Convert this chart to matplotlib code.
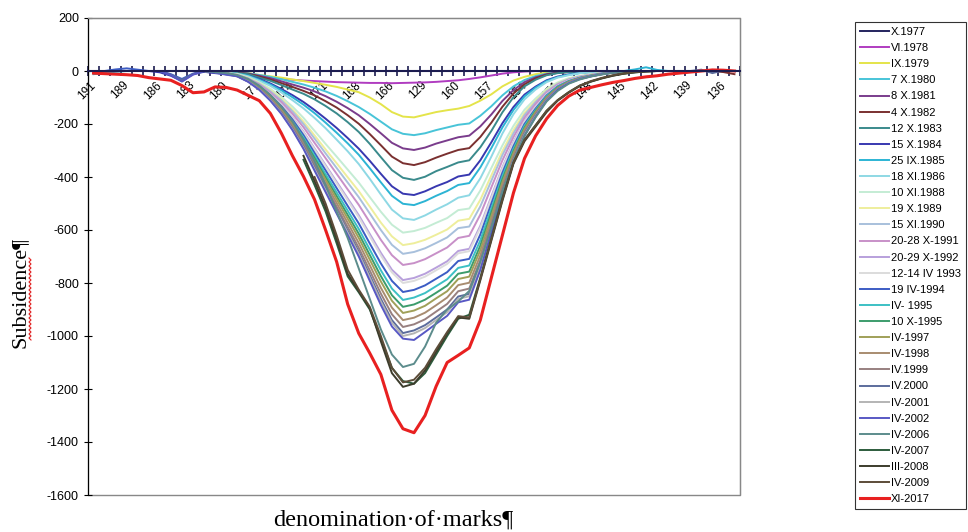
import numpy as np
import matplotlib
matplotlib.use("Agg")
import matplotlib.pyplot as plt
from matplotlib.patches import Rectangle
from matplotlib.lines import Line2D
from matplotlib.ticker import FuncFormatter

plt.rcParams['font.family'] = 'Liberation Sans'
plt.rcParams['axes.unicode_minus'] = False

nan = np.nan

# survey marks along the profile (every third one is labelled)
marks = ['191', '190', '189a', '189', '188', '187', '186', '185', '184', '183',
         '182', '181', '180', '179', '178', '177', '176', '175', '174', '173',
         '172', '171', '170', '169', '168', '167', '166a', '166', '165', '130',
         '129', '162', '161', '160', '159', '158', '157', '156', '155', '154',
         '153', '152', '151', '150', '149', '148', '147', '146', '145', '144',
         '143', '142', '141', '140', '139', '138', '137', '136', '135']

# subsidence, mm (index 0..12 | 13..43 | 44..58)
x1977 = [0, 0, 0, 0, 0, 0, 0, 0, 0, 0, 0, 0, 0,
         0, 0, 0, 0, 0, 0, 0, 0, 0, 0, 0, 0, 0, 0, 0, 0, 0, 0, 0, 0, 0, 0, 0, 0, 0, 0, 0, 0, 0, 0, 0,
         0, 0, 0, 0, 0, 0, 0, 0, 0, 0, 0, 0, 0, 0, 0]
vi1978 = [0, 0, 0, 0, 0, 0, 0, 0, 0, 0, -3, -6, -10,
          -14, -18, -22, -26, -30, -33, -36, -38, -40, -42, -43, -44, -45, -45, -46, -45, -44, -43, -41, -38, -35, -30, -24, -17, -10, -5, -2, 0, 0, 0, 0,
          0, 0, 0, 0, 0, 0, 0, 0, 0, 0, 0, 0, 0, 0, 0]
ix1979 = [0, 0, 0, 0, 0, 0, 0, 0, 0, 0, 0, 0, 0,
          -3, -8, -15, -20, -25, -32, -38, -45, -52, -60, -70, -80, -100, -125, -155, -172, -175, -165, -155, -148, -142, -132, -112, -88, -58, -36, -22, -12, -6, -2, 0,
          0, 0, 0, 0, 0, 0, 0, 0, 0, 0, 0, 0, 0, 0, 0]
x1980 = [0, 0, 0, 0, 0, 0, 0, 0, 0, 0, 0, -2, -4,
         -6, -9, -15, -22, -31, -41, -51, -63, -77, -94, -114, -136, -162, -191, -220, -237, -242, -235, -223, -213, -203, -198, -169, -133, -92, -58, -34, -19, -10, -5, -2,
         0, 0, 0, 0, 0, 0, 0, 0, 0, 0, 0, 0, 0, 0, 0]
x1981 = [0, 0, 0, 0, 0, 0, 0, 0, 0, 0, 0, -2, -4,
         -6, -10, -18, -27, -39, -51, -63, -77, -95, -116, -140, -167, -200, -235, -271, -292, -298, -289, -274, -262, -250, -244, -209, -164, -113, -72, -42, -24, -12, -6, -3,
         0, 0, 0, 0, 0, 0, 0, 0, 0, 0, 0, 0, 0, 0, 0]
x1982 = [0, 0, 0, 0, 0, 0, 0, 0, 0, 0, 0, -2, -5,
         -7, -11, -21, -32, -46, -60, -75, -92, -114, -138, -167, -199, -238, -280, -323, -348, -355, -344, -327, -312, -298, -291, -249, -195, -135, -85, -50, -28, -14, -7, -4,
         -2, 0, 0, 0, 0, 0, 0, 0, 0, 0, 0, 0, 0, -4, -12]
x1983 = [0, 0, 0, 0, 0, 0, 0, 0, 0, 0, 0, -3, -6,
         -8, -12, -25, -37, -53, -70, -86, -107, -132, -160, -193, -230, -275, -325, -374, -403, -411, -399, -378, -362, -345, -337, -288, -226, -156, -99, -58, -33, -16, -8, -4,
         -2, 0, 0, 0, 0, 0, 0, 0, 0, 0, 0, 0, 0, 0, 0]
x1984 = [0, 0, 0, 0, 0, 0, -5, -18, -38, -12, -3, -8, -12,
         -14, -18, -30, -47, -68, -91, -117, -147, -180, -215, -253, -293, -339, -388, -435, -463, -468, -454, -435, -419, -398, -391, -337, -269, -197, -136, -89, -59, -35, -21, -13,
         -7, -5, -2, 0, 0, 0, 0, 0, 0, 0, 0, 0, 0, 0, 0]
ix1985 = [-12, -8, -3, 0, 0, 0, 0, 0, 0, 0, 0, -4, -8,
          -10, -18, -33, -51, -73, -99, -127, -159, -195, -233, -273, -316, -367, -420, -471, -501, -506, -491, -471, -453, -430, -423, -364, -291, -213, -147, -96, -63, -38, -23, -14,
          -8, -5, -3, 0, 0, 6, 14, 4, 0, 0, 0, 0, 0, 0, 0]
xi1986 = [0, 0, 0, 0, 0, 0, 0, 0, 0, 0, 0, -4, -8,
          -10, -20, -37, -56, -81, -110, -141, -177, -216, -259, -303, -351, -407, -466, -523, -556, -562, -545, -523, -503, -478, -469, -405, -323, -236, -163, -107, -70, -42, -25, -16,
          -8, -6, -3, 0, 0, 0, 0, 0, 0, 0, 0, 0, 0, 0, 0]
xi1988 = [0, 0, 0, 0, 0, 0, 0, 0, 0, 0, 0, -4, -8,
          -12, -24, -43, -67, -98, -134, -177, -226, -275, -323, -372, -421, -476, -531, -580, -610, -604, -592, -573, -555, -525, -519, -451, -366, -281, -207, -146, -104, -67, -43, -27,
          -18, -12, -7, -4, -2, 0, 0, 0, 0, 0, 0, 0, 0, 0, 0]
x1989 = [0, 0, 0, 0, 0, 0, 0, 0, 0, 0, 0, -4, -8,
         -13, -26, -46, -72, -105, -145, -191, -243, -296, -348, -401, -453, -512, -572, -624, -657, -650, -637, -618, -598, -565, -558, -486, -394, -302, -223, -158, -112, -72, -46, -30,
         -20, -13, -8, -4, -2, 0, 0, 0, 0, 0, 0, 0, 0, 0, 0]
xi1990 = [0, 0, 0, 0, 0, 0, 0, 0, 0, 0, 0, -4, -8,
          -14, -28, -48, -76, -110, -152, -200, -255, -311, -366, -421, -476, -538, -600, -656, -690, -683, -669, -649, -628, -593, -587, -511, -414, -317, -235, -166, -117, -76, -48, -31,
          -21, -14, -8, -4, -2, 0, 0, 0, 0, 0, 0, 0, 0, 0, 0]
x1991 = [0, 0, 0, 0, 0, 0, 0, 0, 0, 0, 0, -4, -8,
         -15, -29, -51, -81, -117, -161, -212, -271, -329, -388, -447, -505, -571, -637, -695, -732, -725, -710, -688, -666, -630, -622, -542, -439, -337, -249, -176, -124, -81, -51, -33,
         -22, -15, -9, -4, -2, 0, 0, 0, 0, 0, 0, 0, 0, 0, 0]
x1992 = [0, 0, 0, 0, 0, 0, 0, 0, 0, 0, 0, -4, -8,
         -16, -32, -55, -87, -126, -174, -229, -292, -355, -418, -481, -544, -615, -686, -750, -789, -781, -765, -742, -718, -679, -671, -584, -473, -363, -268, -189, -134, -87, -55, -36,
         -24, -16, -9, -5, -2, 0, 0, 0, 0, 0, 0, 0, 0, 0, 0]
iv1993 = [0, 0, 0, 0, 0, 0, 0, 0, 0, 0, 0, -4, -8,
          -16, -32, -56, -88, -128, -176, -232, -296, -360, -424, -488, -552, -624, -696, -760, -800, -792, -776, -752, -728, -688, -680, -592, -480, -368, -272, -192, -136, -88, -56, -36,
          -24, -16, -10, -5, -2, 0, 0, 0, 0, 0, 0, 0, 0, 0, 0]
iv1994 = [0, 0, 6, 10, 5, 0, 0, -12, -30, -10, 0, -6, -10,
          -17, -33, -58, -92, -133, -183, -242, -309, -375, -442, -509, -575, -651, -726, -792, -834, -826, -809, -784, -759, -717, -709, -617, -500, -384, -284, -200, -142, -92, -58, -38,
          -25, -17, -10, -5, -3, 0, 0, 0, 0, 0, 0, 0, 0, 0, 0]
iv1995 = [0, 0, 0, 0, 0, 0, 0, 0, 0, 0, 0, -4, -8,
          -17, -35, -60, -95, -138, -190, -251, -320, -389, -458, -527, -596, -674, -752, -821, -864, -855, -838, -812, -786, -743, -734, -639, -518, -397, -294, -207, -147, -95, -60, -39,
          -26, -17, -10, -5, -3, 0, 0, 0, 0, 0, 0, 0, 0, 0, 0]
x1995 = [0, 0, 0, 0, 0, 0, 0, 0, 0, 0, 0, -4, -8,
         -18, -36, -62, -98, -142, -196, -258, -329, -401, -472, -543, -614, -694, -774, -846, -890, -881, -863, -837, -810, -765, -757, -659, -534, -409, -303, -214, -151, -98, -62, -40,
         -27, -18, -11, -5, -3, 0, 0, 0, 0, 0, 0, 0, 0, 0, 0]
iv1997 = [0, 0, 0, 0, 0, 0, 0, 0, 0, 0, 0, -4, -8,
          -18, -37, -64, -100, -146, -201, -265, -338, -411, -484, -557, -630, -712, -794, -867, -913, -904, -886, -858, -831, -785, -776, -676, -548, -420, -310, -219, -155, -100, -64, -41,
          -27, -18, -11, -5, -3, 0, 0, 0, 0, 0, 0, 0, 0, 0, 0]
iv1998 = [0, 0, 0, 0, 0, 0, 0, 0, 0, 0, 0, -4, -8,
          -19, -38, -66, -103, -150, -207, -273, -348, -423, -498, -573, -649, -733, -818, -893, -940, -931, -912, -884, -855, -808, -799, -696, -564, -432, -320, -226, -160, -103, -66, -42,
          -28, -19, -11, -6, -3, 0, 0, 0, 0, 0, 0, 0, 0, 0, 0]
iv1999 = [0, 0, 0, 0, 0, 0, 0, 0, 0, 0, 0, -4, -8,
          -19, -39, -68, -106, -155, -213, -280, -357, -435, -512, -589, -667, -753, -840, -918, -966, -956, -937, -908, -879, -831, -821, -715, -580, -444, -328, -232, -164, -106, -68, -43,
          -29, -19, -12, -6, -3, 0, 0, 0, 0, 0, 0, 0, 0, 0, 0]
iv2000 = [0, 0, 0, 0, 0, 0, 0, -14, -34, -12, 0, -5, -12,
          -20, -40, -69, -109, -158, -218, -287, -366, -445, -524, -603, -682, -771, -860, -940, -989, -979, -959, -930, -900, -851, -841, -732, -593, -455, -336, -237, -168, -109, -69, -45,
          -30, -20, -12, -6, -3, 0, 0, 0, 0, 0, 0, 5, -8, 2, 0]
iv2001 = [0, 0, 0, 0, 0, 0, 0, 0, 0, 0, 0, -4, -8,
          -20, -40, -70, -110, -160, -220, -290, -370, -450, -530, -610, -690, -780, -870, -950, -1000, -990, -970, -940, -910, -860, -850, -740, -600, -460, -340, -240, -170, -110, -70, -45,
          -30, -20, -12, -6, -3, 0, 0, 0, 0, 0, 0, 0, 0, 0, 0]
iv2002 = [0, 0, 0, 0, 0, 0, 0, -16, -40, -14, 0, -6, -14,
          -20, -41, -71, -112, -162, -223, -294, -376, -457, -538, -619, -700, -792, -883, -964, -1010, -1015, -985, -954, -924, -873, -863, -751, -609, -467, -345, -244, -173, -112, -71, -46,
          -30, -20, -12, -6, -3, 0, 0, 0, 0, 0, 0, 0, 0, 0, 0]
iv2006 = [0, 0, 0, 0, 0, 0, 0, 0, 0, 0, 0, -4, -8,
          -15, -30, -55, -90, -135, -190, -260, -340, -430, -530, -630, -745, -860, -975, -1070, -1117, -1105, -1040, -950, -900, -870, -830, -720, -590, -455, -340, -245, -175, -115, -75, -48,
          -32, -21, -13, -7, -3, 0, 0, 0, 0, 0, 0, 0, 0, 0, 0]
iv2007 = [nan, nan, nan, nan, nan, nan, nan, nan, nan, nan, nan, nan, nan,
          nan, nan, nan, nan, nan, nan, -335, -430, -530, -650, -775, -835, -900, -1010, -1120, -1170, -1180, -1140, -1070, -1000, -935, -920, -780, -630, -480, -345, -260, -205, -150, -110, -80,
          -55, -40, -27, -17, -10, -5, -2, 0, 0, 0, 0, 0, 0, 0, 0]
iii2008 = [nan, nan, nan, nan, nan, nan, nan, nan, nan, nan, nan, nan, nan,
           nan, nan, nan, nan, nan, nan, -320, -415, -515, -635, -765, -830, -895, -1020, -1140, -1192, -1180, -1130, -1060, -990, -930, -935, -790, -640, -490, -350, -265, -210, -155, -112, -82,
           -57, -40, -28, -18, -10, -5, -2, 0, 0, 0, 0, 0, 0, 0, 0]
iv2009 = [nan, nan, nan, nan, nan, nan, nan, nan, nan, nan, nan, nan, nan,
          nan, nan, nan, nan, nan, nan, nan, -400, -500, -620, -750, -825, -890, -1000, -1120, -1175, -1165, -1120, -1050, -985, -925, -930, -785, -635, -485, -345, -260, -205, -150, -110, -80,
          -55, -38, -26, -16, -9, -4, -1, 0, 0, 0, 0, 0, 0, 0, 0]
xi2017 = [-8, -10, -12, -14, -17, -25, -30, -35, -55, -82, -79, -60, -62,
          -72, -92, -112, -160, -235, -320, -398, -485, -600, -720, -880, -990, -1065, -1145, -1280, -1350, -1365, -1300, -1190, -1100, -1073, -1045, -940, -780, -620, -460, -330, -245, -180, -130, -95,
          -72, -62, -52, -43, -36, -28, -22, -18, -12, -8, -4, 0, 4, 3, 0]

labels = ['X.1977', 'VI.1978', 'IX.1979', '7 X.1980', '8 X.1981', '4 X.1982',
          '12 X.1983', '15 X.1984', '25 IX.1985', '18 XI.1986', '10 XI.1988',
          '19 X.1989', '15 XI.1990', '20-28 X-1991', '20-29 X-1992', '12-14 IV 1993',
          '19 IV-1994', 'IV- 1995', '10 X-1995', 'IV-1997', 'IV-1998', 'IV.1999',
          'IV.2000', 'IV-2001', 'IV-2002', 'IV-2006', 'IV-2007', 'III-2008',
          'IV-2009', 'XI-2017']
series = [x1977, vi1978, ix1979, x1980, x1981, x1982, x1983, x1984, ix1985,
          xi1986, xi1988, x1989, xi1990, x1991, x1992, iv1993, iv1994, iv1995,
          x1995, iv1997, iv1998, iv1999, iv2000, iv2001, iv2002, iv2006, iv2007,
          iii2008, iv2009, xi2017]
colors = ['#24245e', '#b03cc0', '#e4e44a', '#48c4d8', '#7a3c8c', '#7a3030',
          '#3a8a8c', '#3838b0', '#2cb4d4', '#8ed8e4', '#c4ecd4', '#eeee9c',
          '#a8c0dc', '#c890c8', '#b8a0dc', '#dcdcdc', '#3c5cc4', '#3cc0c4',
          '#3c9c6c', '#a0a058', '#a88c70', '#988080', '#5c6c9c', '#b4b4b4',
          '#5858c4', '#5c8c8c', '#2c5c3c', '#3c3c2c', '#5c4c38', '#e82020']

fig = plt.figure(figsize=(9.68, 5.32), dpi=100)
ax = fig.add_axes([88 / 968, 37 / 532, 652 / 968, 477 / 532])

x = np.arange(len(marks))
for lab, col, vals in zip(labels, colors, series):
    lw = 2.2 if lab == 'XI-2017' else 1.4
    ax.plot(x, np.array(vals, dtype=float), color=col, lw=lw, label=lab,
            solid_joinstyle='round')

ax.set_xlim(-0.5, len(marks) - 0.5)
ax.set_ylim(-1600, 200)
ax.set_yticks(np.arange(-1600, 201, 200))
ax.yaxis.set_major_formatter(FuncFormatter(lambda v, p: "%d" % v))
ax.tick_params(axis='y', direction='inout', length=6, labelsize=9)

ax.spines['bottom'].set_position(('data', 0))
ax.spines['bottom'].set_color('#1c1c50')
ax.spines['bottom'].set_linewidth(1.5)
ax.spines['bottom'].set_zorder(5)
for s in ['top', 'right']:
    ax.spines[s].set_color('#888888')
ax.add_patch(Rectangle((0, 0), 1, 1, transform=ax.transAxes, fill=False,
                       ec='#888888', lw=1, clip_on=False, zorder=0))

ax.set_xticks(x[::3])
ax.set_xticklabels([marks[i] for i in x[::3]], rotation=45, ha='right',
                   va='center', rotation_mode='anchor', fontsize=8.5)
ax.set_xticks(np.arange(-0.5, len(marks), 1), minor=True)
ax.tick_params(axis='x', which='major', length=0, pad=9)
ax.tick_params(axis='x', which='minor', direction='inout', length=7,
               color='#1c1c50', width=1.2)

fig.text(20 / 968, 1 - 292 / 532, 'Subsidence¶', rotation=90, family='Liberation Serif',
         fontsize=16, ha='center', va='center')
# spell-check squiggle under the word
yy = np.arange(258, 342, 2.0)
xx = np.where(np.arange(len(yy)) % 2 == 0, 29.0, 31.0)
fig.add_artist(Line2D(xx / 968, 1 - yy / 532, color='#e02020', lw=0.8))
fig.text(393 / 968, 1 - 520 / 532, 'denomination·of·marks¶', family='Liberation Serif',
         fontsize=17.5, ha='center', va='center')

leg = ax.legend(loc='upper left', bbox_to_anchor=(855 / 968, 1 - 22 / 532),
                bbox_transform=fig.transFigure, fontsize=8, frameon=True,
                fancybox=False, edgecolor='black', borderaxespad=0,
                borderpad=0.45, labelspacing=0.55, handlelength=2.6,
                handletextpad=0.15)
leg.get_frame().set_linewidth(0.8)

fig.savefig('out.png', dpi=100)
